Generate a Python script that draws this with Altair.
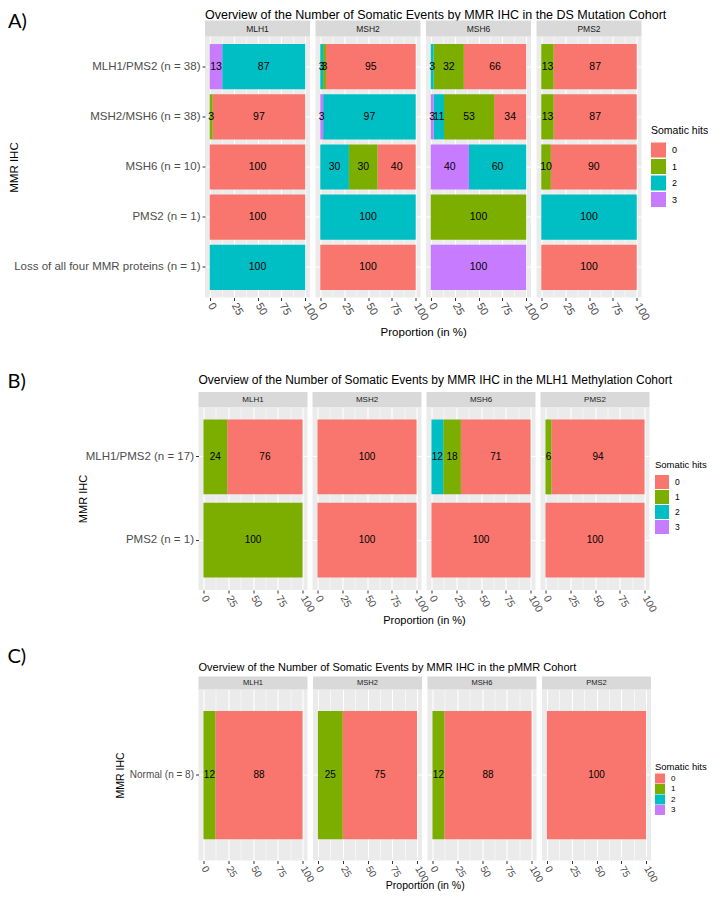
import altair as alt
import pandas as pd

GENES = ["MLH1", "MSH2", "MSH6", "PMS2"]
HITS = ["0", "1", "2", "3"]
HIT_COLORS = ["#F8766D", "#7CAE00", "#00BFC4", "#C77CFF"]
X_MAJOR = [0, 25, 50, 75, 100]
X_MINOR = [12.5, 37.5, 62.5, 87.5]

# ---- Cohort A: DS Mutation ----
A_TITLE = "Overview of the Number of Somatic Events by MMR IHC in the DS Mutation Cohort"
A_IHC = ["MLH1/PMS2 (n = 38)", "MSH2/MSH6 (n = 38)", "MSH6 (n = 10)",
         "PMS2 (n = 1)", "Loss of all four MMR proteins (n = 1)"]
# proportion (%) for somatic hits 0, 1, 2, 3 per IHC row
A_MLH1 = [[0, 0, 87, 13], [97, 3, 0, 0], [100, 0, 0, 0], [100, 0, 0, 0], [0, 0, 100, 0]]
A_MSH2 = [[95, 3, 3, 0], [0, 0, 97, 3], [40, 30, 30, 0], [0, 0, 100, 0], [100, 0, 0, 0]]
A_MSH6 = [[66, 32, 3, 0], [34, 53, 11, 3], [0, 0, 60, 40], [0, 100, 0, 0], [0, 0, 0, 100]]
A_PMS2 = [[87, 13, 0, 0], [87, 13, 0, 0], [90, 10, 0, 0], [0, 0, 100, 0], [100, 0, 0, 0]]

# ---- Cohort B: MLH1 Methylation ----
B_TITLE = "Overview of the Number of Somatic Events by MMR IHC in the MLH1 Methylation Cohort"
B_IHC = ["MLH1/PMS2 (n = 17)", "PMS2 (n = 1)"]
B_MLH1 = [[76, 24, 0, 0], [0, 100, 0, 0]]
B_MSH2 = [[100, 0, 0, 0], [100, 0, 0, 0]]
B_MSH6 = [[71, 18, 12, 0], [100, 0, 0, 0]]
B_PMS2 = [[94, 6, 0, 0], [100, 0, 0, 0]]

# ---- Cohort C: pMMR ----
C_TITLE = "Overview of the Number of Somatic Events by MMR IHC in the pMMR Cohort"
C_IHC = ["Normal (n = 8)"]
C_MLH1 = [[88, 12, 0, 0]]
C_MSH2 = [[75, 25, 0, 0]]
C_MSH6 = [[88, 12, 0, 0]]
C_PMS2 = [[100, 0, 0, 0]]

FONT = "Liberation Sans"
TAG_FONT = "Lato"
ONE = pd.DataFrame({"k": [0]})


def build_df(ihc, per_gene):
    recs = []
    for gene, rows in zip(GENES, per_gene):
        for cat, row in zip(ihc, rows):
            for h, p in zip(HITS, row):
                if p > 0:
                    recs.append({"gene": gene, "ihc": cat, "hits": h, "pct": p})
    return pd.DataFrame(recs)


def panel(df, ihc, gene, i, c):
    W, H, S = c["w"], c["h"], c["s"]
    d = df[df.gene == gene]
    base = alt.Chart(d).transform_stack(
        as_=["s0", "s1"], stack="pct", groupby=["ihc"], offset="normalize",
        sort=[alt.SortField("hits", order="descending")],
    ).transform_calculate(
        x0="datum.s0 * 100", x1="datum.s1 * 100", mid="(datum.s0 + datum.s1) * 50"
    )

    x_axis_kw = dict(
        values=X_MAJOR, format="d",
        labelAngle=60, labelAlign="left", labelBaseline="middle",
        labelFont=FONT, labelFontSize=c["tick_fs"], labelColor="#4D4D4D",
        labelOverlap=False, labelFlush=False, labelPadding=3,
        tickColor="#333333", tickSize=3,
        grid=True, gridColor="white", gridWidth=1.1,
        domain=False,
    )
    if i == 1:
        x_axis = alt.Axis(title="Proportion (in %)", titleFont=FONT,
                          titleFontSize=c["xt_fs"], titleFontWeight="normal",
                          titleColor="black", titleX=W + S / 2, titleY=c["xt_y"],
                          titleBaseline="middle", titleAlign="center", **x_axis_kw)
    else:
        x_axis = alt.Axis(title=None, **x_axis_kw)
    minor_axis = alt.Axis(orient="top", values=X_MINOR, labels=False, ticks=False,
                          domain=False, title=None, grid=True, gridColor="white",
                          gridWidth=0.55, minExtent=0, maxExtent=0)

    y_scale = alt.Scale(domain=ihc, paddingInner=0.1, paddingOuter=0.15)
    if i == 0:
        y_axis = alt.Axis(title="MMR IHC", titleFont=FONT, titleFontSize=c["yt_fs"],
                          titleFontWeight="normal", titleColor="black",
                          titleAngle=-90, titleX=c["yt_x"], titleY=H / 2,
                          titleBaseline="middle", titleAlign="center",
                          labelFont=FONT, labelFontSize=c["ylab_fs"], labelColor="#4D4D4D",
                          labelLimit=400, labelPadding=2,
                          tickColor="#333333", tickSize=3, bandPosition=0.5,
                          domain=False, grid=True, gridColor="white", gridWidth=1.1)
    else:
        y_axis = alt.Axis(title=None, labels=False, ticks=False, domain=False,
                          bandPosition=0.5, grid=True, gridColor="white", gridWidth=1.1)

    if i == 3:
        legend = alt.Legend(
            title="Somatic hits", orient="none", legendX=c["lx"], legendY=c["ly"],
            titleFont=FONT, titleFontSize=c["lt_fs"], titleFontWeight="normal",
            titleColor="black", titlePadding=c["lt_pad"],
            labelFont=FONT, labelFontSize=c["ll_fs"], labelColor="black", labelOffset=6,
            symbolType="square", symbolSize=c["sym"] ** 2, symbolStrokeWidth=0,
            symbolOpacity=1, rowPadding=c["row_pad"], padding=0,
        )
    else:
        legend = None

    x_scale = alt.Scale(domain=[-5, 105], nice=False, zero=False)
    bars = base.mark_bar().encode(
        x=alt.X("x0:Q", scale=x_scale, axis=x_axis),
        x2="x1:Q",
        y=alt.Y("ihc:N", scale=y_scale, axis=y_axis),
        color=alt.Color("hits:N", scale=alt.Scale(domain=HITS, range=HIT_COLORS), legend=legend),
    )
    labels = base.mark_text(font=FONT, fontSize=c["bar_fs"], color="black",
                            align="center", baseline="middle").encode(
        x=alt.X("mid:Q", scale=x_scale, axis=minor_axis),
        y=alt.Y("ihc:N", scale=y_scale),
        text=alt.Text("pct:Q"),
    )
    strip = alt.Chart(ONE).mark_rect(color="#D9D9D9").encode(
        x=alt.value(0), x2=alt.value(W), y=alt.value(-c["strip_h"]), y2=alt.value(0)
    )
    strip_text = alt.Chart(ONE).mark_text(
        text=gene, font=FONT, fontSize=c["strip_fs"], color="#1A1A1A",
        align="center", baseline="middle"
    ).encode(x=alt.value(W / 2), y=alt.value(-c["strip_h"] / 2))
    layers = [bars, labels, strip, strip_text]
    if i == 0:
        title = alt.Chart(ONE).mark_text(
            text=c["title"], font=FONT, fontSize=c["title_fs"], color="black",
            align="left", baseline="middle"
        ).encode(x=alt.value(0), y=alt.value(c["title_y"]))
        tag = alt.Chart(ONE).mark_text(
            text=c["tag"], font=TAG_FONT, fontSize=c["tag_fs"], color="black",
            align="left", baseline="middle"
        ).encode(x=alt.value(c["tag_x"]), y=alt.value(c["tag_y"]))
        # invisible layout guides fixing this block's outer extent
        guide = alt.Chart(ONE).mark_rule(opacity=0, strokeWidth=1).encode(
            x=alt.value(-c["gl"]), y=alt.value(-c["gt"]), y2=alt.value(H + c["gb"])
        )
        layers += [title, tag, guide]
        if c.get("gr"):
            guide_r = alt.Chart(ONE).mark_rule(opacity=0, strokeWidth=1).encode(
                x=alt.value(c["gr"]), y=alt.value(0), y2=alt.value(1)
            )
            layers.append(guide_r)
    return alt.layer(*layers).resolve_axis(x="independent").properties(width=W, height=H)


def cohort(ihc, per_gene, c):
    df = build_df(ihc, per_gene)
    panels = [panel(df, ihc, g, i, c) for i, g in enumerate(GENES)]
    if c.get("lead"):
        # near-zero-width empty cell: shifts this cohort's panels right by one spacing
        spacer = alt.Chart(ONE).mark_text(text="").encode(
            x=alt.value(0), y=alt.value(0)
        ).properties(width=0.01, height=c["h"], view=alt.ViewBackground(fill=None, stroke=None))
        panels = [spacer] + panels
    return alt.hconcat(*panels, spacing=c["s"], bounds="flush").resolve_scale(
        x="independent", y="independent", color="independent"
    ).resolve_legend(color="independent")


CFG_A = dict(w=105, h=261, s=5.5, lead=True, strip_h=16, strip_fs=8.5, title=A_TITLE,
             title_fs=12.5, title_y=-22, tag="A)", tag_fs=20, tag_x=-197, tag_y=-15,
             ylab_fs=11.5, yt_fs=11.5, yt_x=-191, tick_fs=11, xt_fs=11.5, xt_y=35,
             bar_fs=10.5, lx=114.5, ly=89.5, lt_fs=10.5, lt_pad=6, ll_fs=9, sym=15, row_pad=1.5,
             gl=230, gt=61.5, gb=45, gr=560)
CFG_B = dict(w=109, h=183, s=5, strip_h=15, strip_fs=8, title=B_TITLE, title_fs=12,
             title_y=-27, tag="B)", tag_fs=20, tag_x=-191, tag_y=-25,
             ylab_fs=11.5, yt_fs=11, yt_x=-115, tick_fs=10.5, xt_fs=11, xt_y=30,
             bar_fs=10, lx=114.5, ly=53, lt_fs=9.5, lt_pad=5.5, ll_fs=8.5, sym=14, row_pad=1,
             gl=150, gt=52, gb=38)
CFG_C = dict(w=109, h=171, s=5.5, strip_h=13, strip_fs=7.5, title=C_TITLE, title_fs=11,
             title_y=-22, tag="C)", tag_fs=20, tag_x=-191, tag_y=-33,
             ylab_fs=10, yt_fs=10.5, yt_x=-78, tick_fs=10, xt_fs=10.5, xt_y=25,
             bar_fs=10, lx=113, ly=72, lt_fs=9.5, lt_pad=2.5, ll_fs=8, sym=10, row_pad=0.5,
             gl=150, gt=50, gb=30)

chart_a = cohort(A_IHC, [A_MLH1, A_MSH2, A_MSH6, A_PMS2], CFG_A)
chart_b = cohort(B_IHC, [B_MLH1, B_MSH2, B_MSH6, B_PMS2], CFG_B)
chart_c = cohort(C_IHC, [C_MLH1, C_MSH2, C_MSH6, C_PMS2], CFG_C)

ab = alt.vconcat(chart_a, chart_b, spacing=12.5).resolve_scale(
    x="independent", y="independent", color="independent").resolve_legend(color="independent")
chart = alt.vconcat(ab, chart_c, spacing=11).resolve_scale(
    x="independent", y="independent", color="independent").resolve_legend(color="independent")

chart = chart.properties(
    padding={"left": -33.5, "top": -33.5, "right": -57.5, "bottom": -1}
).configure(background="white").configure_view(stroke=None, fill="#EBEBEB")

chart.save("out.html", embed_options={"renderer": "svg", "actions": False})
